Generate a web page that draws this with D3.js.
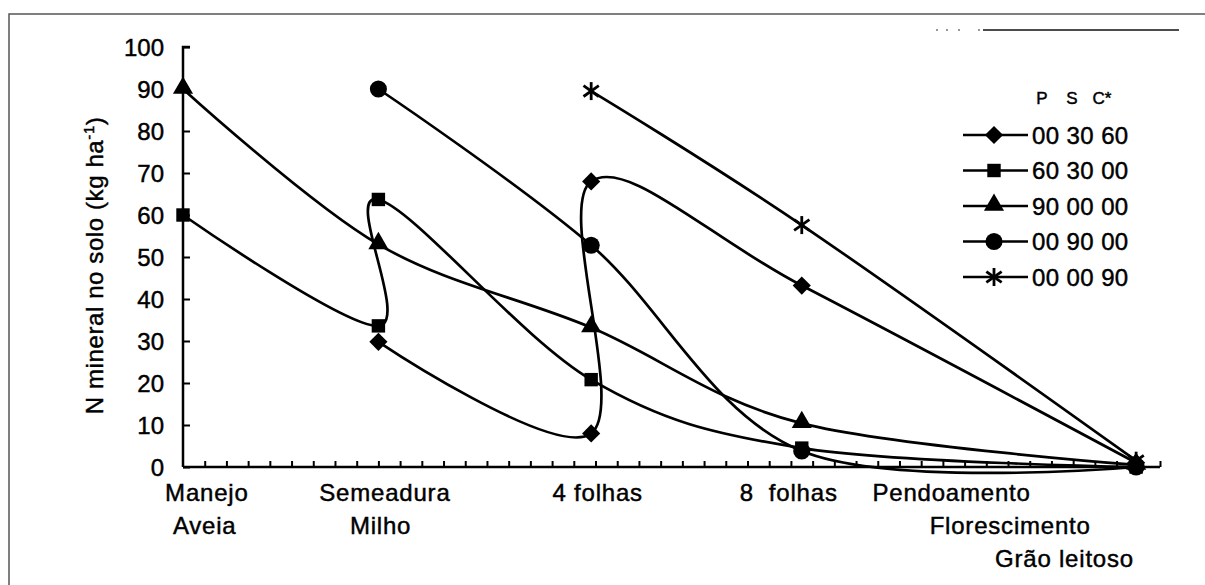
<!DOCTYPE html>
<html>
<head>
<meta charset="utf-8">
<script src="https://cdn.jsdelivr.net/npm/d3@7"></script>
<style>
  html, body { margin: 0; padding: 0; background: #fff; }
  svg { display: block; }
  text { font-family: "Liberation Sans", Arial, sans-serif; fill: #000; stroke: #000; stroke-width: 0.45px; }
</style>
</head>
<body>
<svg id="chart" width="1205" height="585"></svg>
<script>
// ---- data ----
const xTickLabels = [
  {text: "Manejo", x: 1.1, row: 0}, {text: "Aveia", x: 1.0, row: 1},
  {text: "Semeadura", x: 9.3, row: 0}, {text: "Milho", x: 9.1, row: 1},
  {text: "4 folhas", x: 19.1, row: 0},
  {text: "8  folhas", x: 27.9, row: 0},
  {text: "Pendoamento", x: 35.4, row: 0},
  {text: "Florescimento", x: 38.1, row: 1},
  {text: "Grão leitoso", x: 40.6, row: 2}
];
const yTicks = [0, 10, 20, 30, 40, 50, 60, 70, 80, 90, 100];
const seriesNames = ["00 30 60", "60 30 00", "90 00 00", "00 90 00", "00 00 90"];
const seriesSymbols = ["diamond", "square", "triangle", "circle", "star"];
const xS1 = [9, 18.8, 18.8, 28.5, 43.9];
const yS1 = [29.8, 8, 68, 43.2, 1];
const xS2 = [0, 9, 9, 18.8, 28.5, 43.9];
const yS2 = [60, 33.6, 63.7, 20.8, 4.5, 0];
const xS3 = [0, 9, 18.8, 28.5, 43.9];
const yS3 = [90, 53, 33.2, 10.4, 0.5];
const xS4 = [9, 18.8, 28.5, 43.9];
const yS4 = [90, 52.8, 3.8, 0];
const xS5 = [18.8, 28.5, 43.9];
const yS5 = [89.5, 57.6, 1.5];
const legendHeader = ["P", "S", "C*"];

const seriesX = [xS1, xS2, xS3, xS4, xS5];
const seriesY = [yS1, yS2, yS3, yS4, yS5];

// ---- layout ----
const svg = d3.select("#chart");
const x = d3.scaleLinear().domain([0, 45]).range([183, 1160]);
const y = d3.scaleLinear().domain([0, 100]).range([467, 47]);

// outer frame (scan border)
svg.append("path").attr("d", "M9,590 L9,14 L1210,14")
  .attr("fill", "none").attr("stroke", "#555").attr("stroke-width", 1.5);
svg.append("line").attr("x1", 983).attr("x2", 1179).attr("y1", 30).attr("y2", 30)
  .attr("stroke", "#111").attr("stroke-width", 1.3);
[936, 946, 958, 978].forEach(d => svg.append("line").attr("x1", d).attr("x2", d + 2)
  .attr("y1", 30).attr("y2", 30).attr("stroke", "#333").attr("stroke-width", 1));

// axes
const gy = svg.append("g").attr("transform", `translate(${x(0)},0)`)
  .call(d3.axisRight(y).tickValues(yTicks).tickSize(7).tickFormat(""));
gy.select(".domain").attr("stroke-width", 2.5).attr("d", `M7,${y(100)}H0V${y(0)}`);
gy.selectAll(".tick line").attr("stroke-width", 2);

const gx = svg.append("g").attr("transform", `translate(0,${y(0)})`)
  .call(d3.axisTop(x).tickValues(d3.range(1, 46)).tickSize(6).tickFormat(""));
gx.select(".domain").attr("stroke-width", 2.5).attr("d", `M${x(0)},0H${x(45)}`);
gx.selectAll(".tick line").attr("stroke-width", 2);

// y tick labels
svg.append("g").selectAll("text").data(yTicks).join("text")
  .attr("x", 164).attr("y", d => y(d)).attr("dy", "0.36em")
  .attr("text-anchor", "end").attr("font-size", 24)
  .text(d => d);

// y axis title
const yt = svg.append("text")
  .attr("transform", `translate(103,${y(48)}) rotate(-90)`)
  .attr("text-anchor", "middle").attr("font-size", 24).attr("letter-spacing", 0.6);
yt.append("tspan").text("N mineral no solo (kg ha");
yt.append("tspan").attr("font-size", 15).attr("dy", -9).text("-1");
yt.append("tspan").attr("dy", 9).text(")");

// x labels
svg.append("g").selectAll("text").data(xTickLabels).join("text")
  .attr("x", d => x(d.x)).attr("y", d => 501 + d.row * 33)
  .attr("text-anchor", "middle").attr("font-size", 24).attr("letter-spacing", 0.8)
  .attr("xml:space", "preserve").style("white-space", "pre")
  .text(d => d.text);

// lines
const line = d3.line().x(d => x(d[0])).y(d => y(d[1])).curve(d3.curveCardinal.tension(0));
seriesX.forEach((xs, i) => {
  const pts = xs.map((v, j) => [v, seriesY[i][j]]);
  svg.append("path").datum(pts).attr("d", line)
    .attr("fill", "none").attr("stroke", "#000").attr("stroke-width", 2.7);
});

// markers
function drawMarker(g, type) {
  if (type === "diamond") {
    g.append("path").attr("d", d3.symbol().type(d3.symbolSquare).size(165)())
      .attr("transform", "rotate(45)").attr("fill", "#000");
  } else if (type === "square") {
    g.append("path").attr("d", d3.symbol().type(d3.symbolSquare).size(180)()).attr("fill", "#000");
  } else if (type === "triangle") {
    g.append("path").attr("d", d3.symbol().type(d3.symbolTriangle).size(175)())
      .attr("transform", "translate(0,-1)").attr("fill", "#000");
  } else if (type === "circle") {
    g.append("path").attr("d", d3.symbol().type(d3.symbolCircle).size(230)()).attr("fill", "#000");
  } else if (type === "star") {
    const r = 9;
    const segs = [[0, -r, 0, r], [-r * 0.85, -r * 0.6, r * 0.85, r * 0.6], [-r * 0.85, r * 0.6, r * 0.85, -r * 0.6]];
    segs.forEach(s => g.append("line").attr("x1", s[0]).attr("y1", s[1]).attr("x2", s[2]).attr("y2", s[3])
      .attr("stroke", "#000").attr("stroke-width", 2.8));
  }
}
seriesX.forEach((xs, i) => {
  xs.forEach((v, j) => {
    const g = svg.append("g").attr("transform", `translate(${x(v)},${y(seriesY[i][j])})`);
    drawMarker(g, seriesSymbols[i]);
  });
});

// legend
const lg = svg.append("g");
const hdrX = [1042, 1072, 1102];
legendHeader.forEach((t, i) => lg.append("text").attr("x", hdrX[i]).attr("y", 104)
  .attr("text-anchor", "middle").attr("font-size", 17).text(t));
seriesNames.forEach((name, i) => {
  const cy = 135 + i * 35.5;
  lg.append("line").attr("x1", 963).attr("x2", 1028).attr("y1", cy).attr("y2", cy)
    .attr("stroke", "#000").attr("stroke-width", 2.7);
  drawMarker(lg.append("g").attr("transform", `translate(994,${cy})`), seriesSymbols[i]);
  lg.append("text").attr("x", 1032).attr("y", cy).attr("dy", "0.36em")
    .attr("font-size", 24).attr("letter-spacing", 0.4).text(name);
});
</script>
</body>
</html>
